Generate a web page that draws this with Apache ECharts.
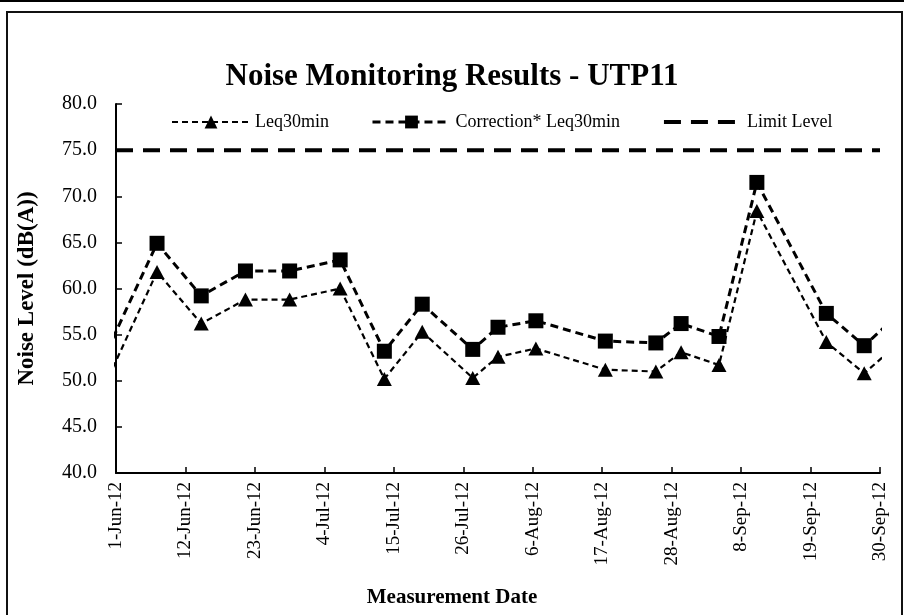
<!DOCTYPE html>
<html>
<head>
<meta charset="utf-8">
<script src="https://cdn.jsdelivr.net/npm/echarts@6/dist/echarts.min.js"></script>
<style>
  html, body { margin: 0; padding: 0; background: #fff; }
  #chart { width: 904px; height: 615px; }
</style>
</head>
<body>
<div id="chart"></div>
<script>
// measurement dates (first and last fall just outside the axis range)
const dates = ['2012-05-31', '2012-06-07', '2012-06-14', '2012-06-21', '2012-06-28', '2012-07-06',
  '2012-07-13', '2012-07-19', '2012-07-27', '2012-07-31', '2012-08-06', '2012-08-17',
  '2012-08-25', '2012-08-29', '2012-09-04', '2012-09-10', '2012-09-21', '2012-09-27', '2012-10-04']
const leq30 = [51.4, 61.8, 56.2, 58.8, 58.8, 60.0, 50.2, 55.3, 50.3, 52.6, 53.5, 51.2,
  51.0, 53.1, 51.7, 68.4, 54.2, 50.8, 55.0]
const corrected = [54.6, 64.9, 59.2, 61.9, 61.9, 63.1, 53.2, 58.3, 53.4, 55.8, 56.5, 54.3,
  54.1, 56.2, 54.8, 71.5, 57.3, 53.8, 58.2]
const limitLevel = 75
const tickLabels = ['1-Jun-12', '12-Jun-12', '23-Jun-12', '4-Jul-12', '15-Jul-12', '26-Jul-12',
  '6-Aug-12', '17-Aug-12', '28-Aug-12', '8-Sep-12', '19-Sep-12', '30-Sep-12']
const tickStep = 11 // days between tick labels

const start = Date.UTC(2012, 5, 1)
// days since 1-Jun; Excel puts each date in the middle of its day slot
const dayOf = (s) => {
  const p = s.split('-')
  return (Date.UTC(+p[0], +p[1] - 1, +p[2]) - start) / 864e5 + 0.5
}
const xMax = (tickLabels.length - 1) * tickStep

const font = 'Liberation Serif'
const chart = echarts.init(document.getElementById('chart'))

const option = {
  animation: false,
  backgroundColor: '#fff',
  title: {
    text: 'Noise Monitoring Results - UTP11',
    left: 'center',
    top: 56,
    textStyle: { fontFamily: font, fontSize: 31, fontWeight: 'bold', color: '#000' }
  },
  legend: {
    left: 166,
    top: 108,
    itemWidth: 78,
    itemHeight: 16,
    itemGap: 42,
    textStyle: { fontFamily: font, fontSize: 18, color: '#000' },
    data: [
      { name: 'Leq30min', lineStyle: { width: 2 } },
      { name: 'Correction* Leq30min', lineStyle: { width: 3 } },
      { name: 'Limit Level', itemStyle: { opacity: 0 }, lineStyle: { width: 4 } }
    ]
  },
  grid: { left: 116, right: 24, top: 104, bottom: 142 },
  xAxis: {
    type: 'value',
    min: 0,
    max: xMax,
    interval: tickStep,
    axisLine: { lineStyle: { color: '#000', width: 2 } },
    axisTick: { inside: true, length: 6, lineStyle: { color: '#000', width: 1.5 } },
    splitLine: { show: false },
    axisLabel: {
      rotate: 90,
      margin: 9,
      fontFamily: font,
      fontSize: 19,
      color: '#000',
      formatter: (v) => tickLabels[Math.round(v / tickStep)] || ''
    }
  },
  yAxis: {
    type: 'value',
    min: 40,
    max: 80,
    interval: 5,
    name: 'Noise Level (dB(A))',
    nameLocation: 'middle',
    nameGap: 77,
    nameTextStyle: { fontFamily: font, fontSize: 23, fontWeight: 'bold', color: '#000' },
    axisLine: { show: true, lineStyle: { color: '#000', width: 2 } },
    axisTick: { show: true, inside: true, length: 6, lineStyle: { color: '#000', width: 1.5 } },
    splitLine: { show: false },
    axisLabel: {
      margin: 19,
      fontFamily: font,
      fontSize: 20,
      color: '#000',
      formatter: (v) => v.toFixed(1)
    }
  },
  graphic: [
    { type: 'line', shape: { x1: 0, y1: 1, x2: 904, y2: 1 }, style: { stroke: '#000', lineWidth: 2 } },
    { type: 'rect', shape: { x: 7, y: 12, width: 895, height: 700 }, style: { fill: null, stroke: '#111', lineWidth: 2 } },
    {
      type: 'text',
      left: 'center',
      top: 587,
      style: { text: 'Measurement Date', font: 'bold 21px "Liberation Serif"', fill: '#000' }
    }
  ],
  series: [
    {
      name: 'Leq30min',
      type: 'line',
      data: dates.map((d, i) => [dayOf(d), leq30[i]]),
      symbol: 'triangle',
      symbolSize: [15, 14],
      showAllSymbol: true,
      itemStyle: { color: '#000' },
      lineStyle: { color: '#000', width: 2.2, type: [6, 4] },
      z: 3
    },
    {
      name: 'Correction* Leq30min',
      type: 'line',
      data: dates.map((d, i) => [dayOf(d), corrected[i]]),
      symbol: 'rect',
      symbolSize: 15,
      showAllSymbol: true,
      itemStyle: { color: '#000' },
      lineStyle: { color: '#000', width: 3, type: [8, 5] },
      z: 4
    },
    {
      name: 'Limit Level',
      type: 'line',
      data: [[0, limitLevel], [xMax, limitLevel]],
      symbol: 'none',
      itemStyle: { color: '#000' },
      lineStyle: { color: '#000', width: 4, type: [17, 10] },
      z: 2
    }
  ]
}
chart.setOption(option)
</script>
</body>
</html>
